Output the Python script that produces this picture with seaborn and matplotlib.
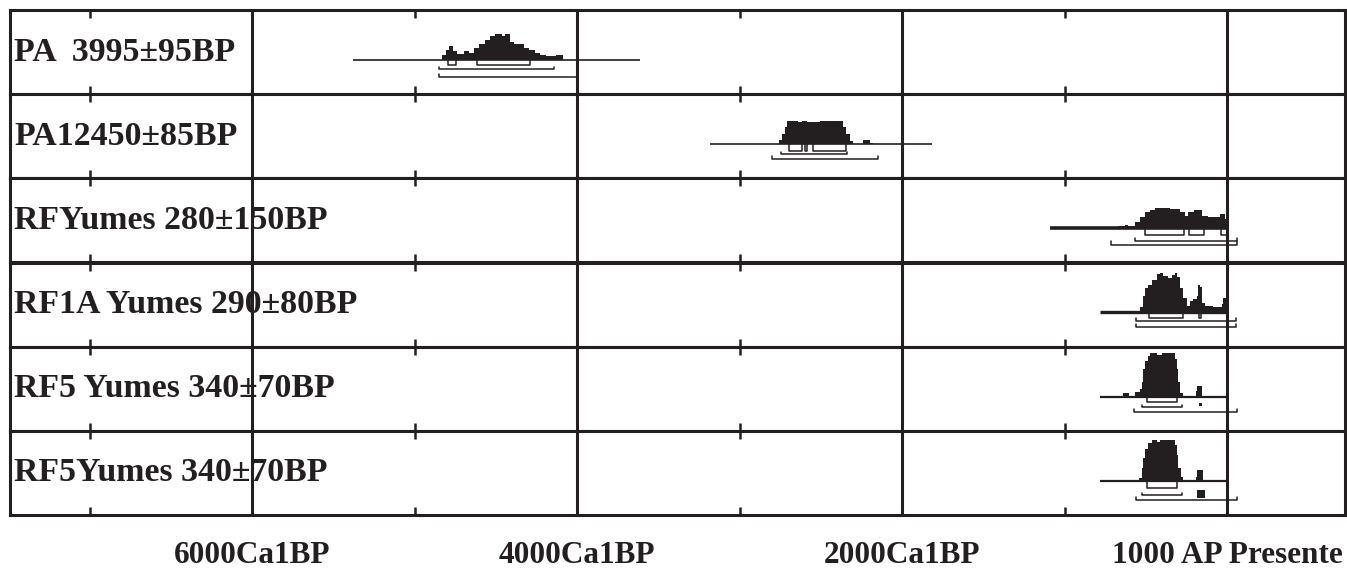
import numpy as np
import pandas as pd
import matplotlib
matplotlib.use("Agg")
import matplotlib.pyplot as plt
import seaborn as sns

INK = "#231f20"

# ---------------- data (calibrated years BP) ----------------
labels = ["PA  3995±95BP", "PA12450±85BP", "RFYumes 280±150BP",
          "RF1A Yumes 290±80BP", "RF5 Yumes 340±70BP", "RF5Yumes 340±70BP"]

axis_major = [6000, 4000, 2000, 0]
axis_minor = [7000, 5000, 3000, 1000]
axis_labels = ["6000Ca1BP", "4000Ca1BP", "2000Ca1BP", "1000 AP Presente"]

# step-profile edges and probability heights of each calibrated distribution
edges_pa3995 = [4830, 4805, 4790, 4765, 4740, 4695, 4665, 4635, 4605, 4565, 4535, 4505,
                4460, 4445, 4410, 4390, 4355, 4325, 4295, 4260, 4230, 4190, 4130, 4085]
prob_pa3995 = [5, 10, 14, 9, 6, 9, 7, 12, 16, 20, 24, 25.5, 24, 25.5, 18, 15.5, 16, 12,
               10, 7, 5, 4, 4.5]

edges_pa12450 = [2757, 2738, 2720, 2708, 2640, 2615, 2585, 2505, 2431, 2363, 2345, 2320,
                 2302, 2240, 2197, 2178]
prob_pa12450 = [3.7, 10, 16.7, 23.4, 22, 23.4, 21.7, 23.4, 22.7, 16.7, 10, 3, 0, 4.4, 1.5]

edges_rf280 = [671, 628, 609, 566, 535, 505, 474, 443, 351, 289, 258, 240, 203, 154, 117,
               43, 12, -6]
prob_rf280 = [2, 3.6, 2, 6.3, 11.3, 16.3, 18.6, 20.3, 19.3, 16.3, 12.6, 16.3, 18.3, 12.6,
              11.3, 14.3, 9]

edges_rf1a = [554, 535, 517, 505, 486, 462, 431, 412, 394, 363, 338, 320, 308, 289, 271,
              246, 228, 209, 185, 178, 166, 154, 135, 86, 31, 25, 0]
prob_rf1a = [1.7, 5, 16, 24.4, 27.7, 32.7, 38.4, 39.4, 36, 34.4, 37.7, 39.4, 35, 24.4,
             14.4, 6, 11.7, 13.4, 16, 27, 25, 9.7, 6, 5, 8.4, 14.4]

edges_rf5a = [640, 603, 566, 535, 523, 517, 505, 486, 474, 431, 400, 320, 308, 302, 289,
              271, 191, 185, 154, -6]
prob_rf5a = [3.7, 0, 5, 7.7, 14.7, 28, 36, 41, 43.7, 41.7, 43.7, 37.7, 27.7, 14.4, 3.7,
             0, 6, 10.4, 1]

edges_rf5b = [542, 523, 517, 505, 486, 462, 431, 412, 320, 308, 302, 283, 271, 191, 185, 148]
prob_rf5b = [2.7, 12.7, 22.7, 31.7, 37.7, 40.7, 38.4, 40.7, 35.7, 25.7, 12.7, 4, 0, 4, 10.7]

# extent of the calibration line under each distribution
line_start = [5380, 3182, 1089, 782, 782, 782]
line_end = [3610, 1815, -6, -6, -6, -6]

# probability ranges (68.2 %, 95.4 %, 99.7 %)
sig1 = [[(4794, 4744), (4615, 4289)],
        [(2695, 2615), (2600, 2585), (2548, 2345)],
        [(505, 265), (234, 142), (37, -6)],
        [(480, 271), (172, 160)],
        [(492, 308)],
        [(492, 308)]]
sig2 = [[(4849, 4142)], [(2745, 2338)], [(566, -62)], [(560, -55)], [(523, 277)], [(523, 277)]]
sig3 = [[(4849, 4000)], [(2800, 2148)], [(714, -62)], [(560, -55)], [(572, -62)], [(560, -62)]]
blocks = [[], [], [], [], [(172, 154)], [(185, 135)]]

dists = [(edges_pa3995, prob_pa3995), (edges_pa12450, prob_pa12450),
         (edges_rf280, prob_rf280), (edges_rf1a, prob_rf1a),
         (edges_rf5a, prob_rf5a), (edges_rf5b, prob_rf5b)]

# ---------------- style ----------------
sns.set_theme(style="white")
plt.rcParams["font.family"] = ["Liberation Serif", "DejaVu Serif"]

W, H, DPI = 1347, 571, 100
fig = plt.figure(figsize=(W / DPI, H / DPI), dpi=DPI)
fig.patch.set_facecolor("white")

left_px, right_px, top_px, bottom_px = 10, 1345, 10, 515
row_h = (bottom_px - top_px) / 6.0

line_w = [1.2, 1.2, 2.6, 2.4, 1.6, 1.6]
lvl = [(-4.7, -9.4, -17.5), (-6.6, -10, -15), (-6.4, -12.4, -16.4),
       (-5.6, -8.3, -15), (-5.6, -10.6, -15.6), (-7.6, -14.3, -19.3)]
block_span = [None, None, None, None, (-6.8, -9.8), (-9.3, -17)]

axes = []
for i in range(6):
    y0 = 1 - (top_px + (i + 1) * row_h) / H
    ax = fig.add_axes([left_px / W, y0, (right_px - left_px) / W, row_h / H])
    axes.append(ax)
    edges, prob = dists[i]
    e = [float(v) for v in edges]
    df = pd.DataFrame({"year": [(e[k] + e[k + 1]) / 2.0 for k in range(len(e) - 1)],
                       "prob": [float(v) for v in prob]})
    sns.histplot(data=df, x="year", weights="prob", bins=sorted(e), element="step",
                 fill=True, color=INK, alpha=1, linewidth=0, ax=ax)
    # calibration line
    ax.hlines(0, line_start[i], line_end[i], color=INK, lw=line_w[i], zorder=3)
    l1, l2, l3 = lvl[i]
    for a, b in sig1[i]:
        ax.plot([a, a, b, b], [0, l1, l1, 0], color=INK, lw=1.1, zorder=3)
    for a, b in sig2[i]:
        ax.plot([a, a, b, b], [l2 + 2.5, l2, l2, l2 + 2.5], color=INK, lw=1.1, zorder=3)
    for a, b in sig3[i]:
        ax.plot([a, a, b, b], [l3 + 3.5, l3, l3, l3 + 3.5], color=INK, lw=1.1, zorder=3)
    for a, b in blocks[i]:
        t, bt = block_span[i]
        ax.fill_between([a, b], [t, t], [bt, bt], color=INK, lw=0, zorder=3)
    for v in axis_major:
        ax.axvline(v, color=INK, lw=2.2, zorder=4)
    ax.set_xlim(7490, -726)
    ax.set_ylim(-34.2, 50)
    ax.set_yticks([])
    ax.set_ylabel("")
    ax.set_xlabel("")
    ax.set_xticks(axis_major)
    ax.set_xticks(axis_minor, minor=True)
    ax.tick_params(axis="x", which="major", length=0, bottom=False, top=False,
                   labelbottom=False)
    ax.tick_params(axis="x", which="minor", direction="in", length=6, width=1.8,
                   bottom=True, top=True, color=INK)
    for s in ax.spines.values():
        s.set_visible(True)
        s.set_color(INK)
        s.set_linewidth(2.2)
    ax.set_facecolor("white")
    ax.text(0.003, 0.5, labels[i], transform=ax.transAxes, ha="left", va="center",
            fontsize=24.4, fontweight="bold", color=INK, zorder=5)

last = axes[-1]
last.set_xticklabels(axis_labels)
last.tick_params(axis="x", which="major", labelbottom=True, pad=19, labelsize=22.5,
                 labelcolor=INK)
for t in last.get_xticklabels():
    t.set_fontweight("bold")

fig.savefig("out.png", dpi=DPI, facecolor="white")
